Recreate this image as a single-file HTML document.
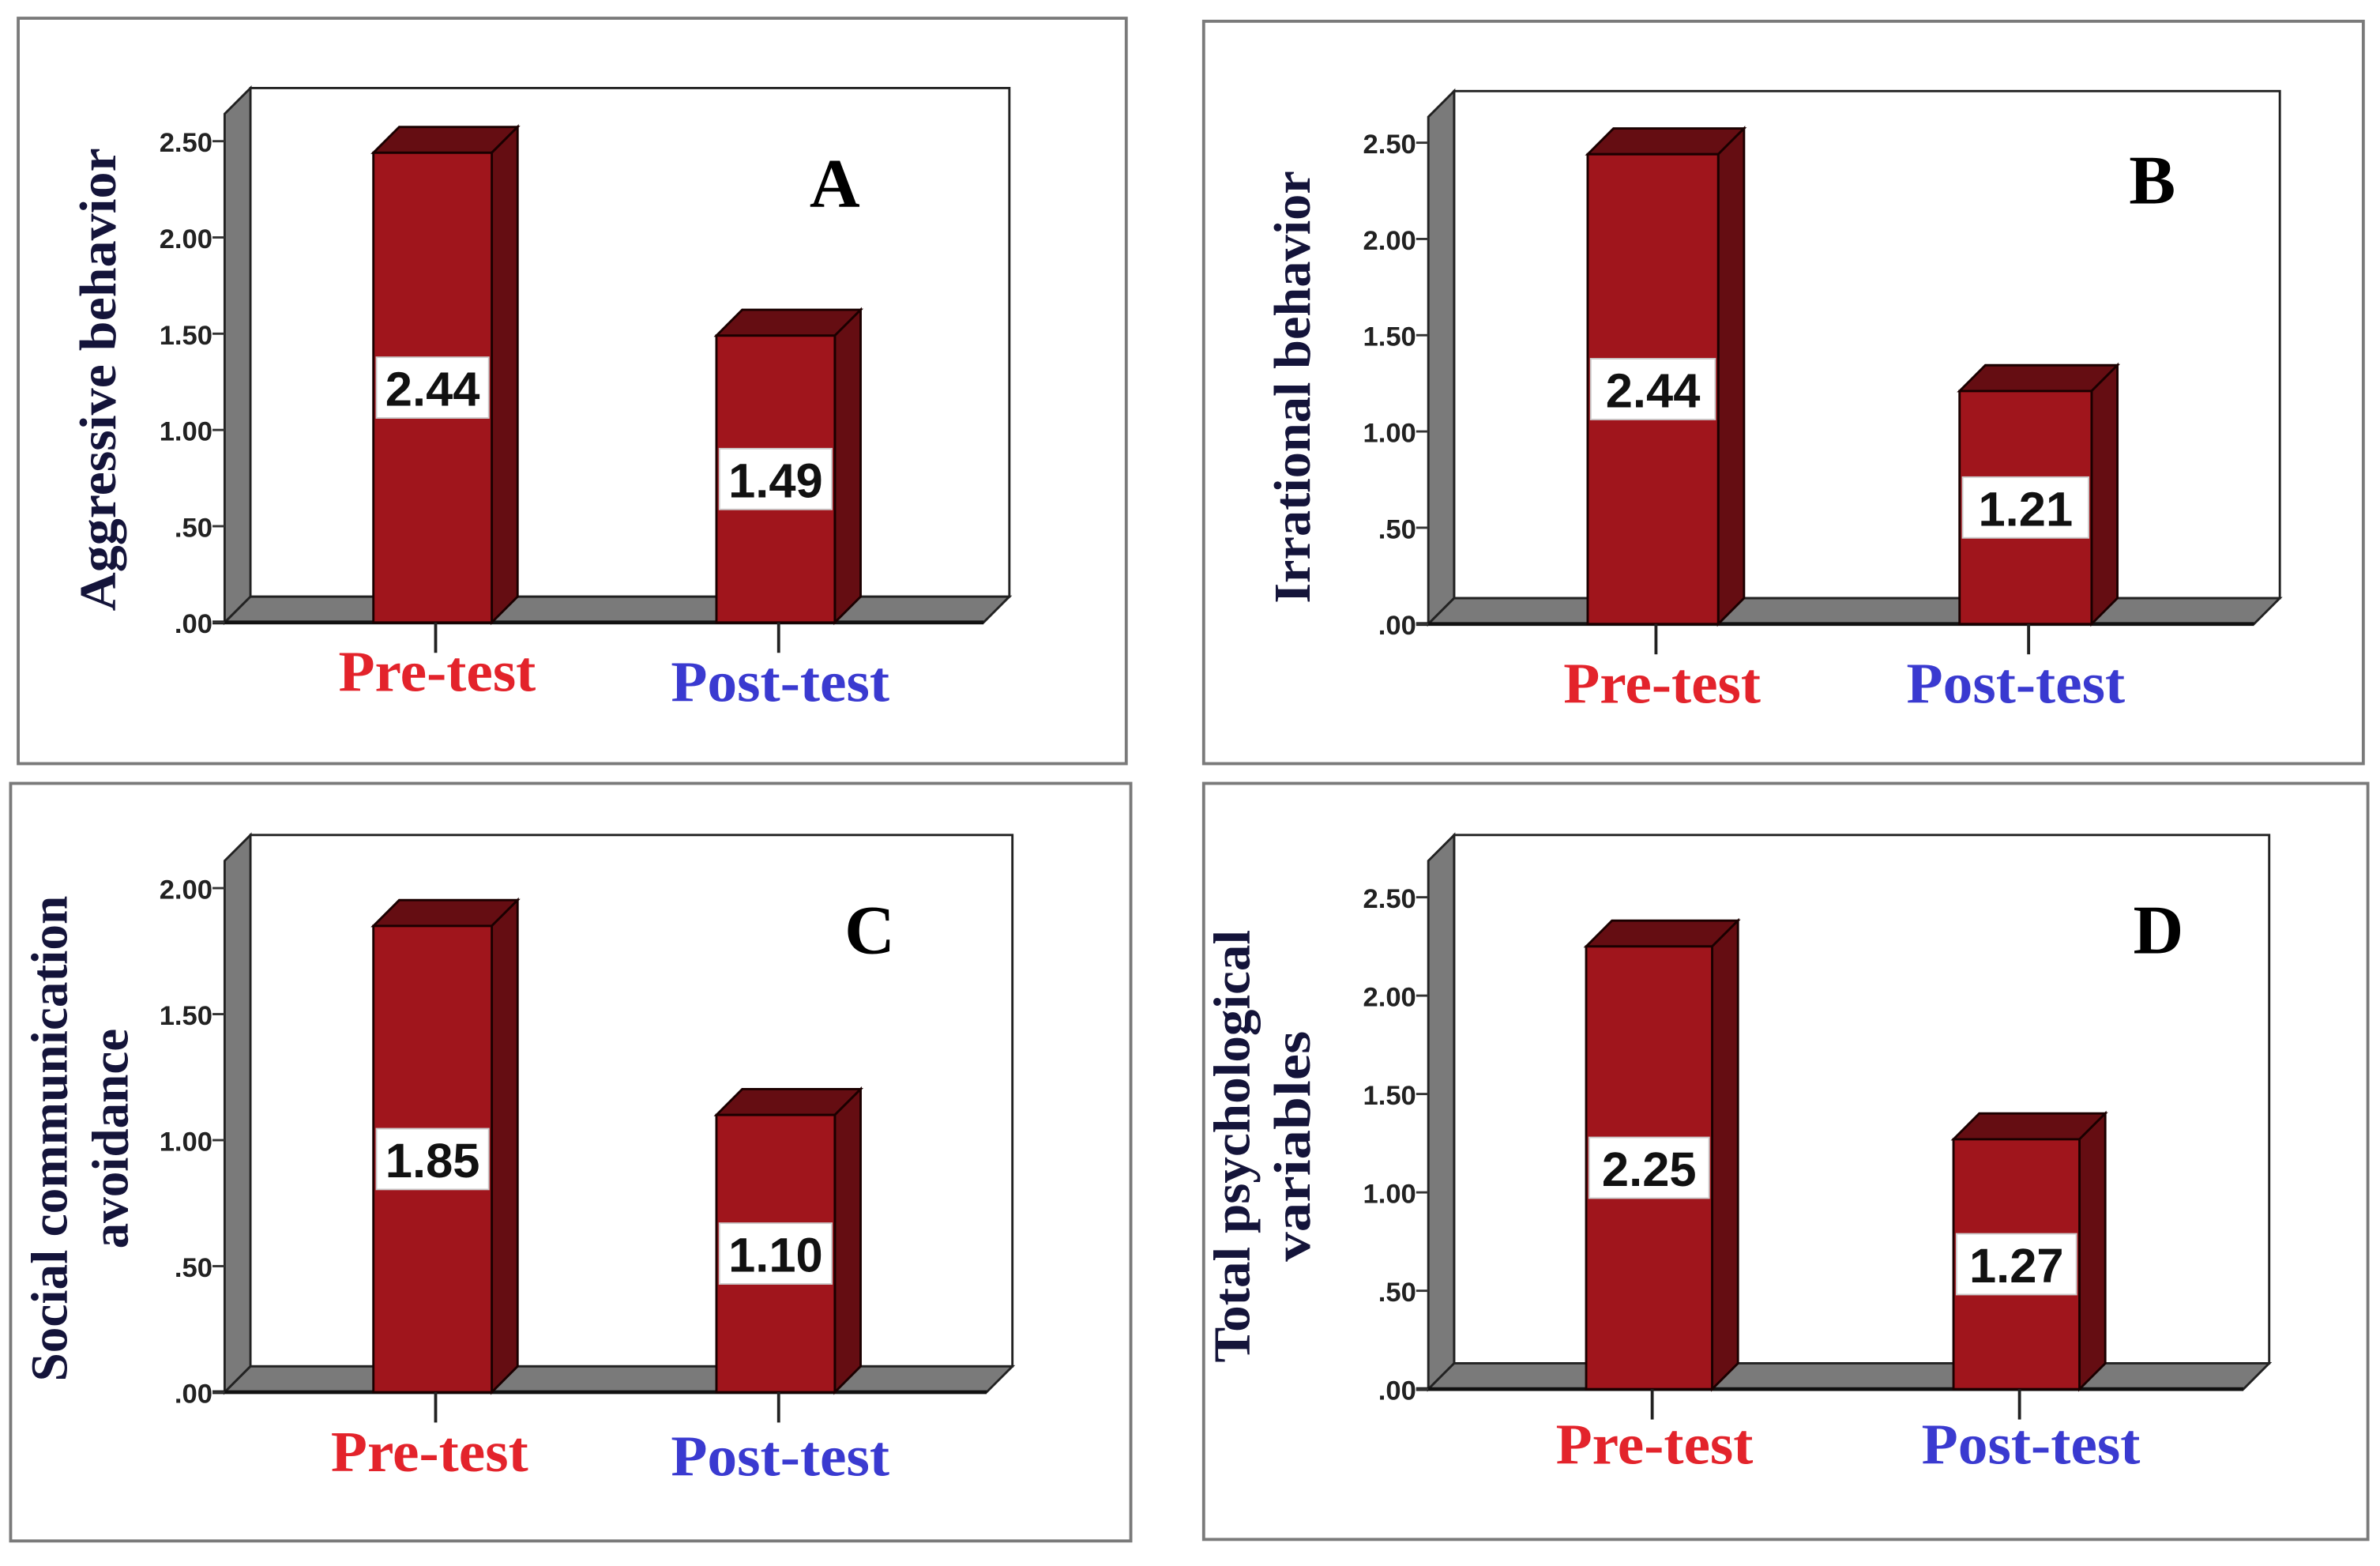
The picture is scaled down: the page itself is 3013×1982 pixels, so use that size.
<!DOCTYPE html>
<html><head><meta charset="utf-8"><style>
html,body{margin:0;padding:0;background:#fff}
svg{display:block}
</style></head><body>
<svg id="fig" width="3013" height="1982" viewBox="0 0 1568 1031.5" preserveAspectRatio="none" xmlns="http://www.w3.org/2000/svg"></svg>
<script>
const categories = ["Pre-test", "Post-test"];
const valuesA = [2.44, 1.49];
const valuesB = [2.44, 1.21];
const valuesC = [1.85, 1.10];
const valuesD = [2.25, 1.27];
const ticksA = [0, 0.5, 1.0, 1.5, 2.0, 2.5];
const ticksC = [0, 0.5, 1.0, 1.5, 2.0];
const tickLabelsA = [".00", ".50", "1.00", "1.50", "2.00", "2.50"];
const tickLabelsC = [".00", ".50", "1.00", "1.50", "2.00"];
const panelLetters = ["A", "B", "C", "D"];
const yTitles = [["Aggressive behavior"], ["Irrational behavior"], ["Social communication", "avoidance"], ["Total psychological", "variables"]];

const NS = "http://www.w3.org/2000/svg";
const svg = document.getElementById("fig");
function mk(tag, attrs, parent, text) {
  const e = document.createElementNS(NS, tag);
  for (const k in attrs) e.setAttribute(k, attrs[k]);
  if (text !== undefined) e.textContent = text;
  (parent || svg).appendChild(e);
  return e;
}

const layouts = [
  {box:[12,12,742,503], L:165, T:58, R:665, F:410, y0:410, ymax:2.5, yTop:93, bars:[[246,324],[472,550]], cat:[[288,455],[514,462]], letter:[550,136], title:[65,250], tlen:[305], vals:valuesA, ticks:ticksA, tl:tickLabelsA},
  {box:[793,14,1557,503], L:958, T:60, R:1502, F:411, y0:411, ymax:2.5, yTop:94, bars:[[1046,1132],[1291,1378]], cat:[[1095,463],[1328,463]], letter:[1418,134], title:[852,255], tlen:[285], vals:valuesB, ticks:ticksA, tl:tickLabelsA},
  {box:[7,516,745,1015], L:165, T:550, R:667, F:917, y0:917, ymax:2.0, yTop:585, bars:[[246,324],[472,550]], cat:[[283,969],[514,972]], letter:[573,628], title:[33,750], tlen:[320,145], vals:valuesC, ticks:ticksC, tl:tickLabelsC},
  {box:[793,516,1560,1014], L:958, T:550, R:1495, F:915, y0:915, ymax:2.5, yTop:591, bars:[[1045,1128],[1287,1370]], cat:[[1090,964],[1338,964]], letter:[1422,628], title:[812,755], tlen:[285,152], vals:valuesD, ticks:ticksA, tl:tickLabelsA}
];

layouts.forEach((p, pi) => {
  const g = mk("g", {});
  
  
  const [bx1, by1, bx2, by2] = p.box;
  const frame = mk("rect", {x:bx1, y:by1, width:bx2-bx1, height:by2-by1, fill:"#fff", stroke:"#7a7a7a", "stroke-width":2}, g);
  
  
  const dx = 17, dy = 17;
  const yScale = v => p.y0 - v * (p.y0 - p.yTop) / p.ymax;
  const wall = mk("rect", {x:p.L, y:p.T, width:p.R-p.L, height:p.F-dy-p.T, fill:"#fff", stroke:"#222", "stroke-width":1.5}, g);
  
  
  const side = mk("polygon", {points:`${p.L-dx},${p.T+dy} ${p.L},${p.T} ${p.L},${p.F-dy} ${p.L-dx},${p.F}`, fill:"#7a7a7a", stroke:"#222", "stroke-width":1.5}, g);
  
  
  const floor = mk("polygon", {points:`${p.L-dx},${p.F} ${p.L},${p.F-dy} ${p.R},${p.F-dy} ${p.R-dx},${p.F}`, fill:"#7a7a7a", stroke:"#222", "stroke-width":1.5}, g);
  
  
  mk("line", {x1:p.L-dx-8, y1:p.F, x2:p.R-dx, y2:p.F, stroke:"#111", "stroke-width":2.5}, g);
  p.ticks.forEach((t, i) => {
    const ty = yScale(t);
    mk("line", {x1:p.L-dx-8, y1:ty, x2:p.L-dx, y2:ty, stroke:"#333", "stroke-width":1.5}, g);
    const lab = mk("text", {x:p.L-dx-8, y:ty+7, "text-anchor":"end", "font-family":"Liberation Sans, sans-serif", "font-weight":"bold", "font-size":18, fill:"#222"}, g, p.tl[i]);
    
    
  });
  p.vals.forEach((v, i) => {
    const [x1, x2] = p.bars[i];
    const yt = yScale(v);
    const fb = p.F;
    const top = mk("polygon", {points:`${x1},${yt} ${x1+dx},${yt-dy} ${x2+dx},${yt-dy} ${x2},${yt}`, fill:"#650d12", stroke:"#1a0000", "stroke-width":1.5}, g);
    
    
    const sd = mk("polygon", {points:`${x2},${yt} ${x2+dx},${yt-dy} ${x2+dx},${fb-dy} ${x2},${fb}`, fill:"#650d12", stroke:"#1a0000", "stroke-width":1.5}, g);
    
    
    const fr = mk("rect", {x:x1, y:yt, width:x2-x1, height:fb-yt, fill:"#a0151c", stroke:"#1a0000", "stroke-width":1.5}, g);
    
    
    const cy = yScale(v / 2);
    const lb = mk("rect", {x:x1+2, y:cy-20, width:x2-x1-4, height:40, fill:"#fff", stroke:"#ccc", "stroke-width":1}, g);
    
    
    const vt = mk("text", {x:(x1+x2)/2, y:cy+12, "text-anchor":"middle", "font-family":"Liberation Sans, sans-serif", "font-weight":"bold", "font-size":32, fill:"#111"}, g, v.toFixed(2));
    
    
    const cx = (x1 + x2) / 2 + 2;
    mk("line", {x1:cx, y1:p.F, x2:cx, y2:p.F+20, stroke:"#222", "stroke-width":2}, g);
    const ct = mk("text", {x:p.cat[i][0], y:p.cat[i][1], "text-anchor":"middle", "font-family":"Liberation Serif, serif", "font-weight":"bold", "font-size":38, textLength: i===0?130:144, lengthAdjust:"spacingAndGlyphs", fill: i===0 ? "#e3232b" : "#3a3ad0"}, g, categories[i]);
    
    
  });
  const lt = mk("text", {x:p.letter[0], y:p.letter[1], "text-anchor":"middle", "font-family":"Liberation Serif, serif", "font-weight":"bold", "font-size":46, fill:"#000"}, g, panelLetters[pi]);
  
  
  const lines = yTitles[pi];
  lines.forEach((ln, li) => {
    const x = p.title[0] + li * 40;
    const y = p.title[1];
    const tt = mk("text", {x:x, y:y, transform:`rotate(-90 ${x} ${y})`, "text-anchor":"middle", "dominant-baseline":"central", "font-family":"Liberation Serif, serif", "font-weight":"bold", "font-size":34, textLength:p.tlen[li], lengthAdjust:"spacingAndGlyphs", fill:"#14143a"}, g, ln);
    
    
  });
});
</script>
</body></html>
